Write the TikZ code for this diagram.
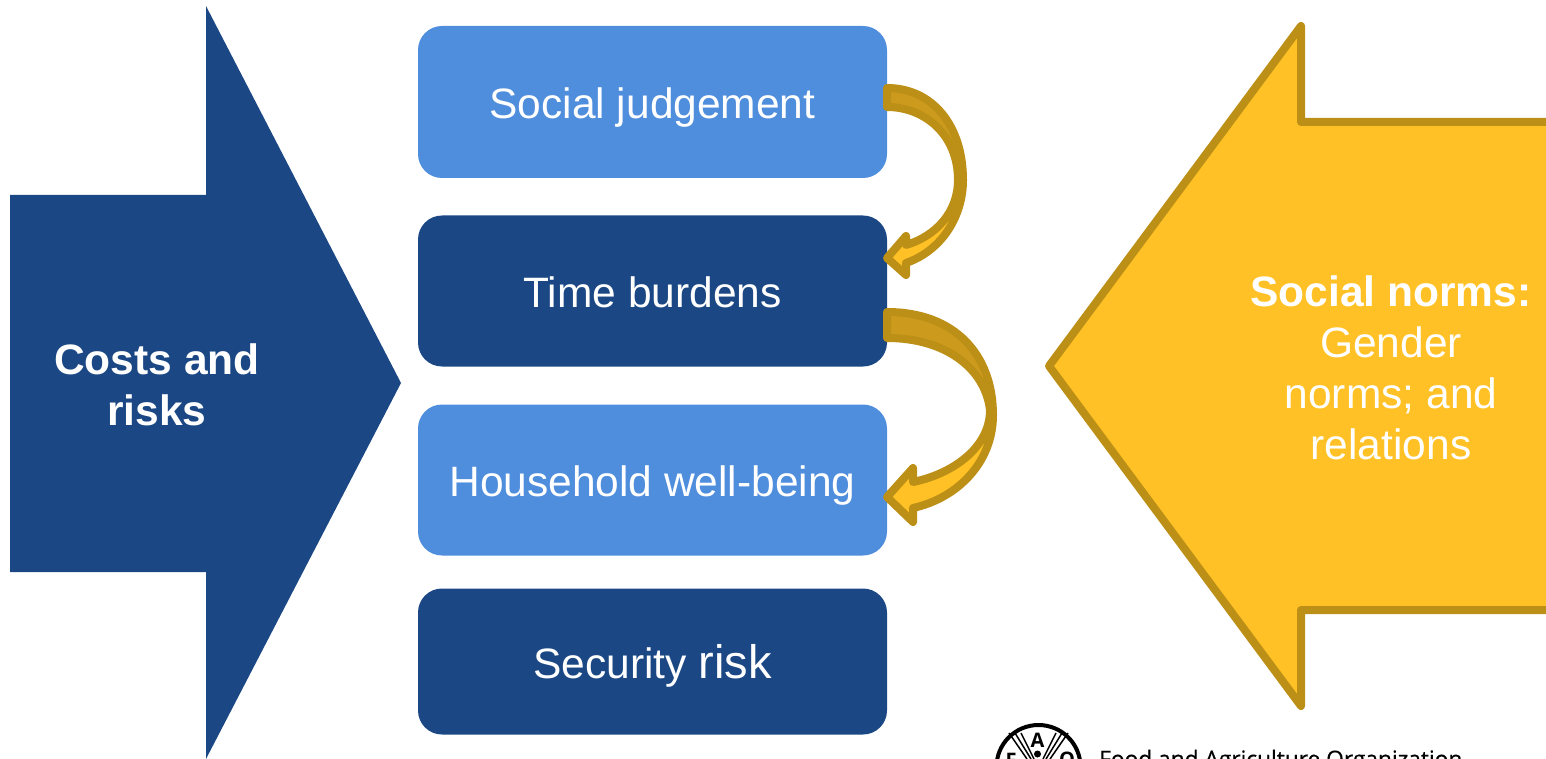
\documentclass[tikz,border=0pt]{standalone}
\usepackage{fontspec}
\setmainfont{Liberation Sans}
\newfontfamily\faofont{Open Sans}
\newfontfamily\faotext[FakeBold=0.4]{Open Sans}
\newlength{\du}
\setlength{\du}{1pt}
\definecolor{lightblue}{RGB}{79,141,221}
\definecolor{darkblue}{RGB}{27,72,132}
\definecolor{normyellow}{RGB}{255,193,37}
\definecolor{normedge}{RGB}{188,143,22}
\definecolor{normshade}{RGB}{204,155,30}
\tikzset{
  riskbox/.style={rectangle,rounded corners=24\du,minimum width=469\du,text=white,inner sep=0pt,
    text height=33.5\du,text depth=0pt,font=\fontsize{42.5}{51}\selectfont},
  arrowtext/.style={text=white,align=center,inner sep=0pt,font=\fontsize{42.5}{51}\selectfont},
  bendarrow/.style={draw=normedge,line width=8\du,line join=round,line cap=round},
  faoletter/.style={inner sep=0pt,font=\faofont\bfseries\fontsize{20}{20}\selectfont},
}

\begin{document}
\begin{tikzpicture}
\pgftransformxscale{1.000000}
\pgftransformyscale{-1.000000}
\useasboundingbox (0\du,0\du) rectangle (1546\du,759\du);
% big arrows
\fill[darkblue] (10\du,195\du)--(206\du,195\du)--(206\du,6\du)--(401\du,383\du)--(206\du,759\du)--(206\du,572\du)--(10\du,572\du)--cycle;
\begin{scope}
\clip (0\du,0\du) rectangle (1546\du,759\du);
\draw[fill=normyellow,draw=normedge,line width=8\du,line join=round] (1560\du,122\du)--(1301\du,122\du)--(1301\du,26\du)--(1049\du,366\du)--(1301\du,706\du)--(1301\du,610\du)--(1560\du,610\du);
\end{scope}
\node[arrowtext] (costs) at (157\du,385\du) {\textbf{Costs and}\\\textbf{risks}};
\node[arrowtext] (norms) at (1391\du,368\du) {\textbf{Social norms:}\\Gender\\norms; and\\relations};
% boxes
\node[riskbox,fill=lightblue,minimum height=152\du] (judgement) at (652.5\du,102\du) {Social judgement};
\node[riskbox,fill=darkblue,minimum height=151\du] (burdens) at (652.5\du,291\du) {Time burdens};
\node[riskbox,fill=lightblue,minimum height=151\du] (wellbeing) at (652.5\du,480\du) {Household well-being};
\node[riskbox,fill=darkblue,minimum height=146\du] (security) at (652.5\du,661.5\du) {Security {\fontsize{47}{51}\selectfont risk}};
% bent arrow 1
\coordinate (tipa) at (887\du,258\du);
\coordinate (taila) at (887\du,88\du);
\coordinate (tailb) at (887\du,107\du);
\filldraw[bendarrow,fill=normyellow] (963\du,180\du) .. controls (963\du,215\du) and (943\du,250\du) .. (906\du,263\du)--(906\du,275\du)--(tipa)--(906\du,236\du)--(906\du,245\du) .. controls (936\du,236\du) and (958\du,212\du) .. (958\du,180\du)--cycle;
\filldraw[bendarrow,fill=normshade] (taila) .. controls (932\du,88\du) and (963\du,125\du) .. (963\du,180\du)--(958\du,180\du) .. controls (958\du,135\du) and (925\du,107\du) .. (tailb)--cycle;
% bent arrow 2
\coordinate (tipb) at (887\du,497\du);
\coordinate (tailc) at (887\du,312\du);
\coordinate (taild) at (887\du,338\du);
\filldraw[bendarrow,fill=normyellow] (993\du,415\du) .. controls (993\du,462\du) and (958\du,498\du) .. (913\du,508\du)--(913\du,522\du)--(tipb)--(913\du,468\du)--(913\du,482\du) .. controls (952\du,474\du) and (990\du,448\du) .. (990\du,410\du)--cycle;
\filldraw[bendarrow,fill=normshade] (tailc) .. controls (955\du,312\du) and (993\du,355\du) .. (993\du,415\du)--(990\du,410\du) .. controls (985\du,368\du) and (945\du,338\du) .. (taild)--cycle;
% logo
\begin{scope}
\clip (0\du,0\du) rectangle (1546\du,759\du);
\draw[line width=4\du] (1038.5\du,767\du) circle (42\du);
\foreach \xa/\xb in {1009/1027,1015/1031,1021/1034,1068/1050,1062/1046,1056/1043}{
  \draw[line width=1.5\du] (\xa\du,733\du)--(\xb\du,759\du);
}
\fill (1037.5\du,754\du) circle (3.5\du);
\fill[white] (1037.5\du,740\du) circle (9\du);
\node[faoletter] (faoa) at (1037.5\du,740\du) {A};
\fill[white] (1011\du,760\du) circle (8\du);
\fill[white] (1067\du,760\du) circle (8\du);
\node[faoletter,anchor=base] (faof) at (1011\du,767\du) {F};
\node[faoletter,anchor=base] (faoo) at (1067\du,766\du) {O};
\node[anchor=base west,inner sep=0pt,font=\faotext\fontsize{22.7}{26}\selectfont] (faoname) at (1099\du,767\du) {Food and Agriculture Organization};
\end{scope}
\end{tikzpicture}
\end{document}
